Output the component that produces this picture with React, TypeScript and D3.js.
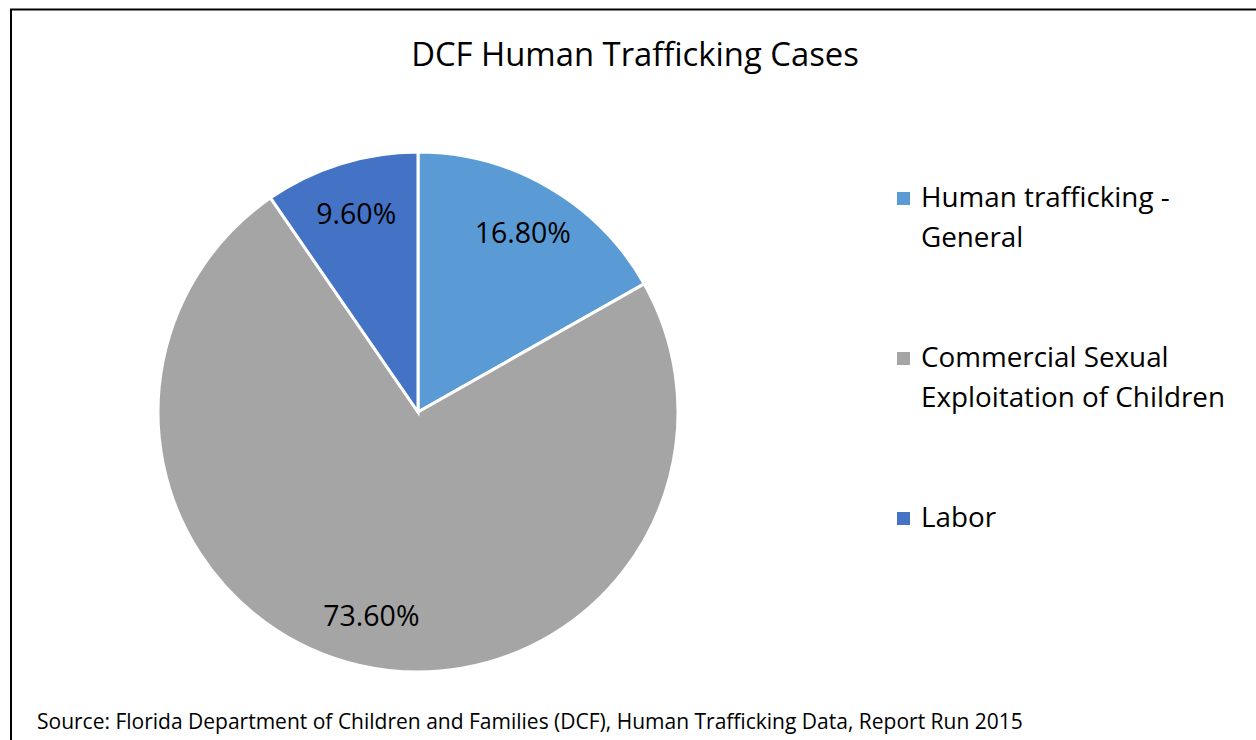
import React from "react";
import * as d3 from "d3";

const categories = ["Human trafficking - General", "Commercial Sexual Exploitation of Children", "Labor"];
const legendLines = [["Human trafficking -", "General"], ["Commercial Sexual", "Exploitation of Children"], ["Labor"]];
const values = [16.8, 73.6, 9.6];
const colors = ["#5B9BD5", "#A5A5A5", "#4472C4"];
const title = "DCF Human Trafficking Cases";
const source = "Source: Florida Department of Children and Families (DCF), Human Trafficking Data, Report Run 2015";

const W = 1256, H = 740;
const cx = 418, cy = 412, R = 260;
const FONT = "'Open Sans', 'Noto Sans', sans-serif";

export default function App() {
  const pie = d3.pie<number>().sort(null).value((d) => d);
  const arcs = pie(values);
  const arcGen = d3.arc<d3.PieArcDatum<number>>().innerRadius(0).outerRadius(R);
  const labelArc = d3.arc<d3.PieArcDatum<number>>().innerRadius(R * 0.8).outerRadius(R * 0.8);
  const legendY = d3.scalePoint<number>().domain([0, 1, 2]).range([207, 527]);
  return (
    <svg width={W} height={H} style={{ position: "fixed", left: 0, top: 0, background: "#fff" }} fontFamily={FONT}>
      <rect x={11} y={9.5} width={W + 20} height={H + 20} fill="#fff" stroke="#000" strokeWidth={2} />
      <text x={635} y={66} textAnchor="middle" fontSize={32.8} fill="#000">{title}</text>
      <g transform={`translate(${cx},${cy})`}>
        {arcs.map((a, i) => (
          <path key={i} d={arcGen(a) || ""} fill={colors[i]} stroke="#fff" strokeWidth={3} />
        ))}
        {arcs.map((a, i) => {
          const [x, y] = labelArc.centroid(a);
          return (
            <text key={i} x={x} y={y} textAnchor="middle" dominantBaseline="central" fontSize={28.5} fill="#000">
              {values[i].toFixed(2)}%
            </text>
          );
        })}
      </g>
      {categories.map((c, i) => (
        <g key={c} transform={`translate(897,${legendY(i)})`}>
          <rect x={0} y={-15} width={13} height={13} fill={colors[i]} />
          <text x={24} y={0} fontSize={27.8} fill="#000">
            {legendLines[i].map((l, j) => (
              <tspan key={j} x={24} dy={j === 0 ? 0 : 40}>{l}</tspan>
            ))}
          </text>
        </g>
      ))}
      <text x={37} y={729} fontSize={21} fill="#000">{source}</text>
    </svg>
  );
}
